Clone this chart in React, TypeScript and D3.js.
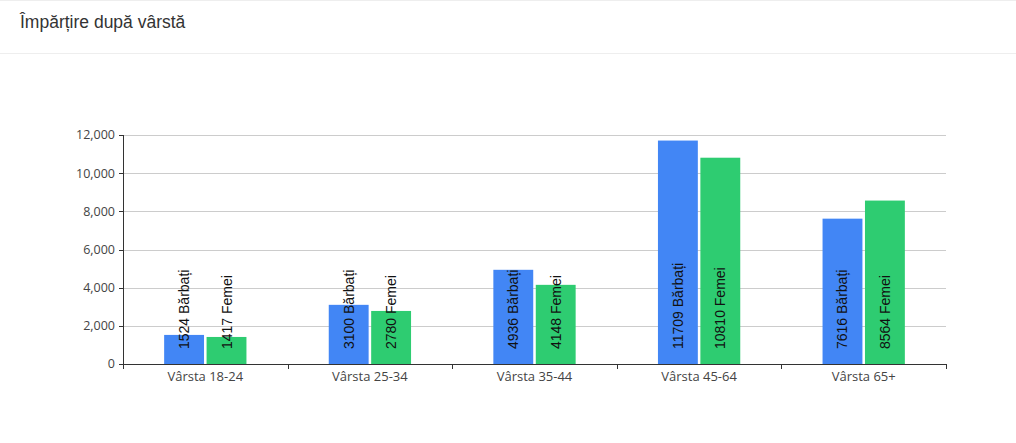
import React from "react";
import * as d3 from "d3";

const categories = ["Vârsta 18-24", "Vârsta 25-34", "Vârsta 35-44", "Vârsta 45-64", "Vârsta 65+"];
const seriesNames = ["Bărbați", "Femei"];
const barbati = [1524, 3100, 4936, 11709, 7616];
const femei = [1417, 2780, 4148, 10810, 8564];
const yTicks = [0, 2000, 4000, 6000, 8000, 10000, 12000];
const colors = ["#4286f5", "#2ecc71"];
const title = "Împărțire după vârstă";

export default function App() {
  const W = 1016, H = 443;
  const left = 123, right = 946, top = 135, bottom = 364;
  const x = d3.scaleBand<string>().domain(categories).range([left, right]).paddingInner(0).paddingOuter(0);
  const y = d3.scaleLinear().domain([0, 12000]).range([bottom, top]);
  const bw = x.bandwidth();
  const inner = d3.scaleBand<string>().domain(seriesNames).range([bw * 0.25, bw * 0.75]).paddingInner(0.06);
  const series = [barbati, femei];
  const fmt = d3.format(",");
  const labelFont = "'Liberation Sans', Arial, sans-serif";
  const axisFont = "'Open Sans', 'Noto Sans', sans-serif";

  return (
    <svg width={W} height={H} style={{ position: "absolute", left: 0, top: 0, background: "#fff" }}>
      <line x1={0} x2={W} y1={0.5} y2={0.5} stroke="#eeeeee" />
      <text x={20} y={28} fontFamily={labelFont} fontSize={17.5} fill="#333">{title}</text>
      <line x1={0} x2={W} y1={53.5} y2={53.5} stroke="#eeeeee" />
      {yTicks.map((t) => (
        <g key={t}>
          {t > 0 && <line x1={left} x2={right} y1={Math.round(y(t)) + 0.5} y2={Math.round(y(t)) + 0.5} stroke="#cccccc" />}
          <line x1={left - 4} x2={left} y1={Math.round(y(t)) + 0.5} y2={Math.round(y(t)) + 0.5} stroke="#333" />
          <text x={left - 8} y={y(t)} dy="0.35em" textAnchor="end" fontFamily={axisFont} fontSize={12.5} fill="#444">{fmt(t)}</text>
        </g>
      ))}
      {categories.map((c, i) => (
        <g key={c}>
          {series.map((s, k) => {
            const bx = (x(c) as number) + (inner(seriesNames[k]) as number);
            const w = inner.bandwidth();
            return (
              <g key={k}>
                <rect x={bx} y={y(s[i])} width={w} height={bottom - y(s[i])} fill={colors[k]} />
                <text transform={`translate(${bx + w / 2 + 5},${bottom - 15}) rotate(-90)`} fontFamily={labelFont} fontSize={14} fill="#111">
                  {`${s[i]} ${seriesNames[k]}`}
                </text>
              </g>
            );
          })}
          <text x={(x(c) as number) + bw / 2} y={381} textAnchor="middle" fontFamily={axisFont} fontSize={13} fill="#444">{c}</text>
        </g>
      ))}
      {[...categories.map((c) => x(c) as number), right].map((p, j) => (
        <line key={j} x1={Math.round(p) + 0.5} x2={Math.round(p) + 0.5} y1={bottom} y2={bottom + 5} stroke="#333" />
      ))}
      <line x1={left + 0.5} x2={left + 0.5} y1={top} y2={bottom} stroke="#333" />
      <line x1={left} x2={right + 1} y1={bottom + 0.5} y2={bottom + 0.5} stroke="#333" />
    </svg>
  );
}
